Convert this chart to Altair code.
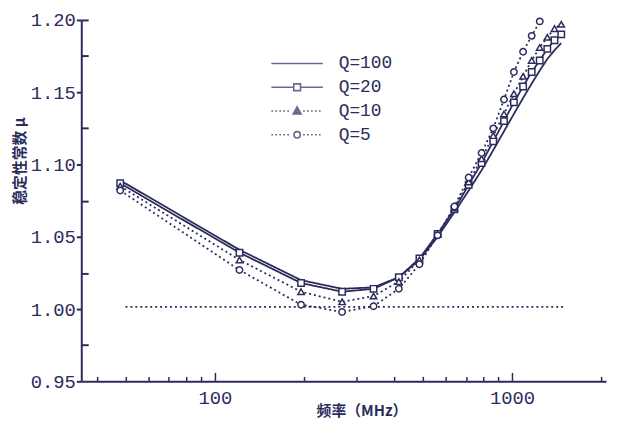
import altair as alt
import pandas as pd

# ---------------- data ----------------
freq = [48, 121, 195, 268, 342, 416, 488, 562, 640, 715, 790, 865,
        940, 1015, 1090, 1165, 1240, 1315, 1390, 1465]
mu_q100 = [1.089, 1.041, 1.020, 1.014, 1.015, 1.022, 1.034, 1.050, 1.067, 1.082,
           1.096, 1.110, 1.123, 1.135, 1.146, 1.156, 1.165, 1.173, 1.179, 1.184]
mu_q20 = [1.087, 1.039, 1.018, 1.012, 1.014, 1.022, 1.035, 1.052, 1.069, 1.086,
          1.101, 1.116, 1.130, 1.143, 1.154, 1.164, 1.172, 1.180, 1.186, 1.190]
mu_q10 = [1.085, 1.034, 1.012, 1.005, 1.009, 1.019, 1.034, 1.052, 1.070, 1.088,
          1.104, 1.120, 1.135, 1.149, 1.161, 1.172, 1.181, 1.188, 1.194, 1.197]
mu_q5 = [1.082, 1.027, 1.003, 0.998, 1.002, 1.014, 1.031, 1.051, 1.071, 1.091,
         1.108, 1.125, 1.145, 1.164, 1.178, 1.189, 1.199]
ref_freq = [50, 1500]
ref_mu = [1.0015, 1.0015]

series_names = ["Q=100", "Q=20", "Q=10", "Q=5"]
x_major = [100, 1000]
x_minor = [40, 50, 60, 70, 80, 90, 200, 300, 400, 500, 600, 700, 800, 900, 2000]
y_major = [0.95, 1.00, 1.05, 1.10, 1.15, 1.20]
y_minor = [0.975, 1.025, 1.075, 1.125, 1.175, 1.20]

# ---------------- tables ----------------
rows = []
for name, vals in zip(series_names, [mu_q100, mu_q20, mu_q10, mu_q5]):
    for f, v in zip(freq, vals):
        rows.append({"Q": name, "f": f, "mu": v})
df = pd.DataFrame(rows)
ref_df = pd.DataFrame({"f": ref_freq, "mu": ref_mu})
leg_df = pd.DataFrame({"Q": series_names, "f": [None] * 4, "mu": [None] * 4})

INK = "#2b2c5c"
MONO = "Liberation Mono"
CJK = "Noto Sans CJK SC"
W, H = 530, 365

xs = alt.Scale(type="log", domain=[35.5, 2073], nice=False)
ys = alt.Scale(domain=[0.95, 1.20], nice=False, zero=False)


# legend symbols (unit = 4 px with symbolSize 64)
def dots(skip):
    segs = []
    x = -6.5
    while x < 6.5:
        if abs(x + 0.2) > skip:
            segs.append(f"M{x:.2f},0h0.45")
        x += 1.0
    return "".join(segs)


leg_paths = [
    "M-6.5,0H6.5",
    "M-6.5,0H-0.85M0.85,0H6.5M-0.85,-0.85H0.85V0.85H-0.85Z",
    dots(1.3) + "M0,-1.05L1,0.75H-1ZM0,-0.45L0.45,0.4H-0.45Z",
    dots(1.3) + "M0.8,0A0.8,0.8 0 1,1 -0.8,0A0.8,0.8 0 1,1 0.8,0Z",
]

ref = alt.Chart(ref_df).mark_line(strokeDash=[2, 3], strokeWidth=1.8, color=INK).encode(
    x=alt.X("f:Q", scale=xs, axis=alt.Axis(orient="top", offset=-H, values=x_major,
                                            tickSize=9, tickWidth=1.5, tickColor=INK,
                                            labels=False, domain=False, grid=False, title=None)),
    y=alt.Y("mu:Q", scale=ys, axis=None),
)

lines = alt.Chart(df).mark_line(strokeWidth=1.8, color=INK).encode(
    x=alt.X("f:Q", scale=xs, axis=alt.Axis(
        orient="bottom", values=x_major, format="d", ticks=False, domain=True, domainWidth=2,
        domainColor=INK, grid=False, labelFont=MONO, labelFontSize=19, labelColor=INK,
        labelPadding=7, title="频率（MHz）", titleFont=CJK, titleFontSize=15,
        titleFontWeight="bold", titleColor=INK, titleX=283, titleY=30,
        titleBaseline="middle")),
    y=alt.Y("mu:Q", scale=ys, axis=alt.Axis(
        orient="left", values=y_major, format=".2f", tickSize=5, tickWidth=2,
        tickColor=INK, domain=True, domainWidth=2, domainColor=INK, grid=False,
        labelFont=MONO, labelFontSize=19, labelColor=INK, labelPadding=1,
        title="稳定性常数 μ", titleFont=CJK, titleFontSize=15, titleFontWeight="bold",
        titleColor=INK, titleX=-62, titleY=142, titleBaseline="middle")),
    strokeDash=alt.StrokeDash("Q:N", scale=alt.Scale(
        domain=series_names, range=[[1, 0], [1, 0], [2, 3], [2, 3]]), legend=None),
)

points = alt.Chart(df).transform_filter(alt.datum.Q != "Q=100").mark_point(
    filled=False, fill="white", fillOpacity=1, stroke=INK, strokeWidth=1.5, size=42, opacity=1
).encode(
    x=alt.X("f:Q", scale=xs, axis=alt.Axis(orient="top", offset=-H, values=x_minor,
                                            tickSize=5, tickWidth=1.5, tickColor=INK,
                                            labels=False, domain=False, grid=False, title=None)),
    y=alt.Y("mu:Q", scale=ys, axis=alt.Axis(orient="right", offset=-W, values=y_minor,
                                             tickSize=7, tickWidth=2, tickColor=INK,
                                             labels=False, domain=False, grid=False, title=None)),
    shape=alt.Shape("Q:N", scale=alt.Scale(domain=series_names[1:],
                                           range=["square", "triangle-up", "circle"]),
                    legend=None),
)

legend_layer = alt.Chart(leg_df).mark_point(filled=False, color=INK).encode(
    x=alt.X("f:Q", scale=xs, axis=None),
    y=alt.Y("mu:Q", scale=ys, axis=None),
    shape=alt.Shape("Q:N", scale=alt.Scale(domain=series_names, range=leg_paths),
                    legend=alt.Legend(orient="none", legendX=209, legendY=35, title=None,
                                      symbolSize=64, symbolStrokeWidth=1.6,
                                      symbolStrokeColor=INK, symbolFillColor="white",
                                      labelFont=MONO, labelFontSize=18, labelColor=INK,
                                      labelOffset=33, rowPadding=6)),
)

chart = alt.layer(ref, lines, points, legend_layer).resolve_scale(
    shape="independent"
).resolve_axis(
    x="independent", y="independent"
).properties(
    width=W, height=H,
    autosize=alt.AutoSizeParams(type="none"),
    padding={"left": 74, "top": 10, "right": 4, "bottom": 40},
    background="white",
).configure_view(stroke=None)

chart.save("out.html", embed_options={"renderer": "svg", "actions": False})
